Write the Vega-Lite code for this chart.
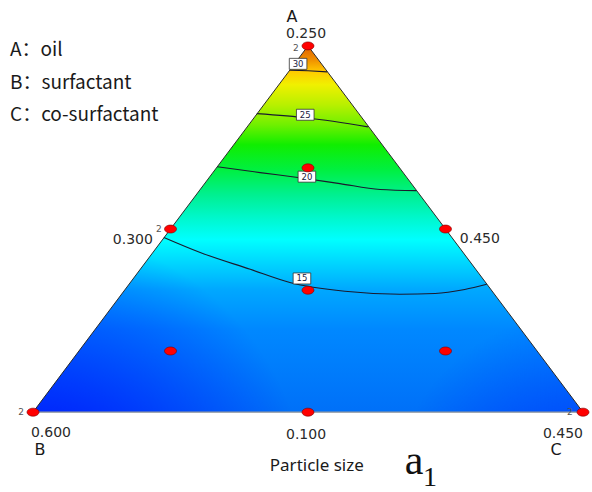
{
  "$schema": "https://vega.github.io/schema/vega-lite/v6.json",
  "width": 592,
  "height": 492,
  "padding": 0,
  "autosize": {"type": "fit", "contains": "padding"},
  "config": {"view": {"stroke": null}},
  "datasets": {
    "tri": [{"u": 0, "v": 0}, {"u": 0.5, "v": 1}, {"u": 1, "v": 0}],
    "contours": [
      {"level": 15, "o": 1, "u": 0.238, "v": 0.477},
      {"level": 15, "o": 2, "u": 0.304, "v": 0.436},
      {"level": 15, "o": 3, "u": 0.395, "v": 0.39},
      {"level": 15, "o": 4, "u": 0.467, "v": 0.354},
      {"level": 15, "o": 5, "u": 0.567, "v": 0.33},
      {"level": 15, "o": 6, "u": 0.667, "v": 0.322},
      {"level": 15, "o": 7, "u": 0.731, "v": 0.324},
      {"level": 15, "o": 8, "u": 0.785, "v": 0.335},
      {"level": 15, "o": 9, "u": 0.825, "v": 0.349},
      {"level": 20, "o": 1, "u": 0.335, "v": 0.67},
      {"level": 20, "o": 2, "u": 0.413, "v": 0.654},
      {"level": 20, "o": 3, "u": 0.485, "v": 0.64},
      {"level": 20, "o": 4, "u": 0.558, "v": 0.624},
      {"level": 20, "o": 5, "u": 0.631, "v": 0.608},
      {"level": 20, "o": 6, "u": 0.697, "v": 0.605},
      {"level": 25, "o": 1, "u": 0.407, "v": 0.815},
      {"level": 25, "o": 2, "u": 0.5, "v": 0.803},
      {"level": 25, "o": 3, "u": 0.609, "v": 0.779},
      {"level": 30, "o": 1, "u": 0.467, "v": 0.934},
      {"level": 30, "o": 2, "u": 0.5, "v": 0.932},
      {"level": 30, "o": 3, "u": 0.535, "v": 0.929}
    ],
    "clabels": [
      {"label": "30", "u": 0.482, "v": 0.951},
      {"label": "25", "u": 0.495, "v": 0.812},
      {"label": "20", "u": 0.498, "v": 0.643},
      {"label": "15", "u": 0.489, "v": 0.365}
    ],
    "design": [
      {"u": 0.5, "v": 1.0},
      {"u": 0.25, "v": 0.5},
      {"u": 0.75, "v": 0.5},
      {"u": 0.5, "v": 0.667},
      {"u": 0.5, "v": 0.333},
      {"u": 0.25, "v": 0.167},
      {"u": 0.75, "v": 0.167},
      {"u": 0, "v": 0},
      {"u": 0.5, "v": 0},
      {"u": 1, "v": 0}
    ]
  },
  "layer": [
    {
      "data": {"name": "tri"},
      "mark": {
        "type": "area",
        "color": {
          "gradient": "linear", "x1": 0, "y1": 0, "x2": 0, "y2": 1,
          "stops": [
            {"offset": 0, "color": "#e06000"},
            {"offset": 0.038, "color": "#f09000"},
            {"offset": 0.071, "color": "#ffcc00"},
            {"offset": 0.106, "color": "#f0f000"},
            {"offset": 0.161, "color": "#b8f000"},
            {"offset": 0.215, "color": "#70f000"},
            {"offset": 0.27, "color": "#10ee00"},
            {"offset": 0.338, "color": "#00f040"},
            {"offset": 0.406, "color": "#00f090"},
            {"offset": 0.474, "color": "#00f8d0"},
            {"offset": 0.529, "color": "#00ffff"},
            {"offset": 0.589, "color": "#00d8ff"},
            {"offset": 0.665, "color": "#00a8ff"},
            {"offset": 0.774, "color": "#0088ff"},
            {"offset": 1, "color": "#0070f8"}
          ]
        }
      },
      "encoding": {
        "x": {"field": "u", "type": "quantitative", "scale": {"domain": [-0.06, 1.01636], "nice": false, "zero": false}, "axis": null},
        "y": {"field": "v", "type": "quantitative", "scale": {"domain": [-0.21526, 1.12534], "nice": false, "zero": false}, "axis": null},
        "y2": {"datum": 0}
      }
    },
    {
      "data": {"name": "tri"},
      "mark": {
        "type": "area",
        "color": {
          "gradient": "radial", "x1": 0, "y1": 1, "r1": 0, "x2": 0, "y2": 1, "r2": 0.5,
          "stops": [
            {"offset": 0, "color": "rgba(0,0,255,0.95)"},
            {"offset": 1, "color": "rgba(0,0,255,0)"}
          ]
        }
      },
      "encoding": {
        "x": {"field": "u", "type": "quantitative", "scale": {"domain": [-0.06, 1.01636], "nice": false, "zero": false}, "axis": null},
        "y": {"field": "v", "type": "quantitative", "scale": {"domain": [-0.21526, 1.12534], "nice": false, "zero": false}, "axis": null},
        "y2": {"datum": 0}
      }
    },
    {
      "data": {"name": "tri"},
      "mark": {
        "type": "area",
        "color": {
          "gradient": "radial", "x1": 1, "y1": 1, "r1": 0, "x2": 1, "y2": 1, "r2": 0.35,
          "stops": [
            {"offset": 0, "color": "rgba(0,40,255,0.8)"},
            {"offset": 1, "color": "rgba(0,40,255,0)"}
          ]
        }
      },
      "encoding": {
        "x": {"field": "u", "type": "quantitative", "scale": {"domain": [-0.06, 1.01636], "nice": false, "zero": false}, "axis": null},
        "y": {"field": "v", "type": "quantitative", "scale": {"domain": [-0.21526, 1.12534], "nice": false, "zero": false}, "axis": null},
        "y2": {"datum": 0}
      }
    },
    {
      "data": {"name": "tri"},
      "mark": {"type": "line", "color": "#2a2a2a", "strokeWidth": 1},
      "encoding": {
        "x": {"field": "u", "type": "quantitative", "scale": {"domain": [-0.06, 1.01636], "nice": false, "zero": false}, "axis": null},
        "y": {"field": "v", "type": "quantitative", "scale": {"domain": [-0.21526, 1.12534], "nice": false, "zero": false}, "axis": null}
      }
    },
    {
      "data": {"values": [{"u": 0, "v": 0}, {"u": 1, "v": 0}]},
      "mark": {"type": "line", "color": "#9a9a9a", "strokeWidth": 1.2},
      "encoding": {
        "x": {"field": "u", "type": "quantitative", "scale": {"domain": [-0.06, 1.01636], "nice": false, "zero": false}, "axis": null},
        "y": {"field": "v", "type": "quantitative", "scale": {"domain": [-0.21526, 1.12534], "nice": false, "zero": false}, "axis": null}
      }
    },
    {
      "data": {"name": "contours"},
      "mark": {"type": "line", "color": "#1a1a2e", "strokeWidth": 1.1, "interpolate": "monotone"},
      "encoding": {
        "x": {"field": "u", "type": "quantitative", "scale": {"domain": [-0.06, 1.01636], "nice": false, "zero": false}, "axis": null},
        "y": {"field": "v", "type": "quantitative", "scale": {"domain": [-0.21526, 1.12534], "nice": false, "zero": false}, "axis": null},
        "detail": {"field": "level", "type": "nominal"},
        "order": {"field": "o", "type": "quantitative"}
      }
    },
    {
      "data": {"name": "clabels"},
      "mark": {"type": "point", "shape": "M-1.6,-1H1.6V1H-1.6Z", "size": 121, "filled": true, "fill": "#ffffff", "stroke": "#333333", "strokeWidth": 0.8, "opacity": 1},
      "encoding": {
        "x": {"field": "u", "type": "quantitative", "scale": {"domain": [-0.06, 1.01636], "nice": false, "zero": false}, "axis": null},
        "y": {"field": "v", "type": "quantitative", "scale": {"domain": [-0.21526, 1.12534], "nice": false, "zero": false}, "axis": null}
      }
    },
    {
      "data": {"name": "clabels"},
      "mark": {"type": "text", "font": "DejaVu Sans", "fontSize": 8.5, "color": "#202040", "align": "center", "baseline": "middle"},
      "encoding": {
        "x": {"field": "u", "type": "quantitative", "scale": {"domain": [-0.06, 1.01636], "nice": false, "zero": false}, "axis": null},
        "y": {"field": "v", "type": "quantitative", "scale": {"domain": [-0.21526, 1.12534], "nice": false, "zero": false}, "axis": null},
        "text": {"field": "label"}
      }
    },
    {
      "data": {"name": "design"},
      "mark": {"type": "point", "shape": "M-1.5,0A1.5,1,0,1,0,1.5,0A1.5,1,0,1,0,-1.5,0Z", "size": 64, "filled": true, "fill": "#ff0000", "stroke": "#7a0000", "strokeWidth": 0.6, "opacity": 1},
      "encoding": {
        "x": {"field": "u", "type": "quantitative", "scale": {"domain": [-0.06, 1.01636], "nice": false, "zero": false}, "axis": null},
        "y": {"field": "v", "type": "quantitative", "scale": {"domain": [-0.21526, 1.12534], "nice": false, "zero": false}, "axis": null}
      }
    },
    {
      "data": {"values": [
        {"t": "A：oil", "u": -0.0418, "v": 0.989},
        {"t": "B：surfactant", "u": -0.0418, "v": 0.899},
        {"t": "C：co-surfactant", "u": -0.0418, "v": 0.812}
      ]},
      "mark": {"type": "text", "font": "Noto Sans CJK SC", "fontSize": 19, "color": "#1a1a1a", "align": "left", "baseline": "middle"},
      "encoding": {
        "x": {"field": "u", "type": "quantitative", "scale": {"domain": [-0.06, 1.01636], "nice": false, "zero": false}, "axis": null},
        "y": {"field": "v", "type": "quantitative", "scale": {"domain": [-0.21526, 1.12534], "nice": false, "zero": false}, "axis": null},
        "text": {"field": "t"}
      }
    },
    {
      "data": {"values": [
        {"t": "0.250", "u": 0.4964, "v": 1.032},
        {"t": "0.600", "u": 0.0327, "v": -0.0572},
        {"t": "0.100", "u": 0.4964, "v": -0.0627},
        {"t": "0.450", "u": 0.9636, "v": -0.0599}
      ]},
      "mark": {"type": "text", "font": "DejaVu Sans", "fontSize": 14, "color": "#2a2a2a", "align": "center", "baseline": "middle"},
      "encoding": {
        "x": {"field": "u", "type": "quantitative", "scale": {"domain": [-0.06, 1.01636], "nice": false, "zero": false}, "axis": null},
        "y": {"field": "v", "type": "quantitative", "scale": {"domain": [-0.21526, 1.12534], "nice": false, "zero": false}, "axis": null},
        "text": {"field": "t"}
      }
    },
    {
      "data": {"values": [{"t": "0.300", "u": 0.218, "v": 0.4714}]},
      "mark": {"type": "text", "font": "DejaVu Sans", "fontSize": 14, "color": "#2a2a2a", "align": "right", "baseline": "middle"},
      "encoding": {
        "x": {"field": "u", "type": "quantitative", "scale": {"domain": [-0.06, 1.01636], "nice": false, "zero": false}, "axis": null},
        "y": {"field": "v", "type": "quantitative", "scale": {"domain": [-0.21526, 1.12534], "nice": false, "zero": false}, "axis": null},
        "text": {"field": "t"}
      }
    },
    {
      "data": {"values": [{"t": "0.450", "u": 0.776, "v": 0.474}]},
      "mark": {"type": "text", "font": "DejaVu Sans", "fontSize": 14, "color": "#2a2a2a", "align": "left", "baseline": "middle"},
      "encoding": {
        "x": {"field": "u", "type": "quantitative", "scale": {"domain": [-0.06, 1.01636], "nice": false, "zero": false}, "axis": null},
        "y": {"field": "v", "type": "quantitative", "scale": {"domain": [-0.21526, 1.12534], "nice": false, "zero": false}, "axis": null},
        "text": {"field": "t"}
      }
    },
    {
      "data": {"values": [
        {"t": "A", "u": 0.471, "v": 1.08},
        {"t": "B", "u": 0.0127, "v": -0.1035},
        {"t": "C", "u": 0.951, "v": -0.1035}
      ]},
      "mark": {"type": "text", "font": "DejaVu Sans", "fontSize": 16, "color": "#1a1a1a", "align": "center", "baseline": "middle"},
      "encoding": {
        "x": {"field": "u", "type": "quantitative", "scale": {"domain": [-0.06, 1.01636], "nice": false, "zero": false}, "axis": null},
        "y": {"field": "v", "type": "quantitative", "scale": {"domain": [-0.21526, 1.12534], "nice": false, "zero": false}, "axis": null},
        "text": {"field": "t"}
      }
    },
    {
      "data": {"values": [
        {"t": "2", "u": 0.478, "v": 0.994},
        {"t": "2", "u": 0.229, "v": 0.5013},
        {"t": "2", "u": -0.0218, "v": 0},
        {"t": "2", "u": 0.976, "v": 0}
      ]},
      "mark": {"type": "text", "font": "DejaVu Sans", "fontSize": 9, "color": "#555555", "align": "center", "baseline": "middle"},
      "encoding": {
        "x": {"field": "u", "type": "quantitative", "scale": {"domain": [-0.06, 1.01636], "nice": false, "zero": false}, "axis": null},
        "y": {"field": "v", "type": "quantitative", "scale": {"domain": [-0.21526, 1.12534], "nice": false, "zero": false}, "axis": null},
        "text": {"field": "t"}
      }
    },
    {
      "data": {"values": [{"t": "Particle size", "u": 0.516, "v": -0.147}]},
      "mark": {"type": "text", "font": "Noto Sans", "fontSize": 17, "color": "#1a1a1a", "align": "center", "baseline": "middle"},
      "encoding": {
        "x": {"field": "u", "type": "quantitative", "scale": {"domain": [-0.06, 1.01636], "nice": false, "zero": false}, "axis": null},
        "y": {"field": "v", "type": "quantitative", "scale": {"domain": [-0.21526, 1.12534], "nice": false, "zero": false}, "axis": null},
        "text": {"field": "t"}
      }
    },
    {
      "data": {"values": [{"t": "a", "u": 0.6927, "v": -0.169, "s": 42}, {"t": "1", "u": 0.722, "v": -0.2016, "s": 28}]},
      "mark": {"type": "text", "font": "Liberation Serif", "color": "#111111", "align": "center", "baseline": "alphabetic"},
      "encoding": {
        "x": {"field": "u", "type": "quantitative", "scale": {"domain": [-0.06, 1.01636], "nice": false, "zero": false}, "axis": null},
        "y": {"field": "v", "type": "quantitative", "scale": {"domain": [-0.21526, 1.12534], "nice": false, "zero": false}, "axis": null},
        "text": {"field": "t"},
        "size": {"field": "s", "type": "quantitative", "scale": null}
      }
    }
  ]
}
